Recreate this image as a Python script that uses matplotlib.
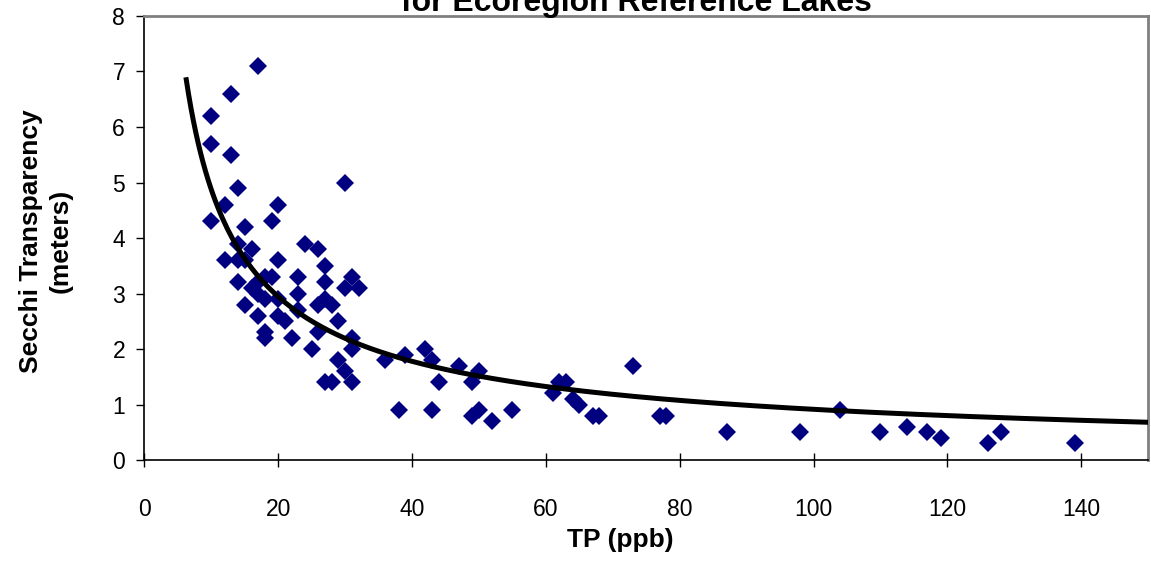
import numpy as np
import matplotlib
matplotlib.use("Agg")
import matplotlib.pyplot as plt

plt.rcParams['font.family'] = ['Liberation Sans', 'DejaVu Sans']

# TP (ppb) and Secchi depth (m) for reference lakes
tp = [17, 13, 10, 10, 13, 30, 14, 12, 20, 10,
      19, 15, 14, 24, 16, 26, 12, 14, 15, 20,
      27, 18, 19, 23, 31, 27, 14, 30, 32, 16,
      17, 17, 18, 20, 23, 27, 26, 28, 15, 23,
      17, 20, 21, 29, 18, 18, 22, 26, 31, 31,
      25, 36, 29, 30, 27, 28, 31, 39, 38, 42,
      43, 44, 43, 47, 50, 49, 49, 50, 52, 55,
      62, 63, 61, 64, 65, 67, 68, 73, 77, 78,
      87, 98, 104, 110, 114, 117, 119, 126, 128, 139]
secchi = [7.1, 6.6, 6.2, 5.7, 5.5, 5.0, 4.9, 4.6, 4.6, 4.3,
          4.3, 4.2, 3.9, 3.9, 3.8, 3.8, 3.6, 3.6, 3.6, 3.6,
          3.5, 3.3, 3.3, 3.3, 3.3, 3.2, 3.2, 3.1, 3.1, 3.1,
          3.2, 3.0, 2.9, 2.9, 3.0, 2.9, 2.8, 2.8, 2.8, 2.7,
          2.6, 2.6, 2.5, 2.5, 2.3, 2.2, 2.2, 2.3, 2.2, 2.0,
          2.0, 1.8, 1.8, 1.6, 1.4, 1.4, 1.4, 1.9, 0.9, 2.0,
          1.8, 1.4, 0.9, 1.7, 1.6, 1.4, 0.8, 0.9, 0.7, 0.9,
          1.4, 1.4, 1.2, 1.1, 1.0, 0.8, 0.8, 1.7, 0.8, 0.8,
          0.5, 0.5, 0.9, 0.5, 0.6, 0.5, 0.4, 0.3, 0.5, 0.3]

x_ticks = [0, 20, 40, 60, 80, 100, 120, 140]
y_ticks = [0, 1, 2, 3, 4, 5, 6, 7, 8]

# power trendline y = a * x^b as drawn on the original chart
trend_a, trend_b = 25.95, -0.7267
trend_start, trend_end = 6.25, 150

xs = np.linspace(trend_start, trend_end, 400)
ys = trend_a * xs ** trend_b

fig = plt.figure(figsize=(11.51, 5.63), dpi=100)
ax = fig.add_axes([0.1255, 0.1829, 0.872, 0.7887])

ax.plot(tp, secchi, linestyle='none', marker='D', markersize=9,
        color='#000080', markeredgewidth=0, zorder=2)
ax.plot(xs, ys, color='black', linewidth=3.6, zorder=3)

ax.set_xlim(0, 150)
ax.set_ylim(0, 8)
ax.set_xticks(x_ticks)
ax.set_yticks(y_ticks)
ax.tick_params(axis='x', direction='inout', length=10, width=1, labelsize=16.5, pad=22)
ax.tick_params(axis='y', direction='out', length=6, width=1, labelsize=16.5, pad=8)

for side in ['left', 'bottom']:
    ax.spines[side].set_color('black')
    ax.spines[side].set_linewidth(1.2)
for side in ['top', 'right']:
    ax.spines[side].set_color('#808080')
    ax.spines[side].set_linewidth(2)

fig.text(636 / 1151, 1 - 11 / 563, 'for Ecoregion Reference Lakes', ha='center',
         va='baseline', fontsize=23, fontweight='bold')
fig.text(620 / 1151, 1 - 547 / 563, 'TP (ppb)', ha='center', va='baseline',
         fontsize=19, fontweight='bold')
fig.text(46 / 1151, 1 - 241 / 563, 'Secchi Transparency\n(meters)', ha='center',
         va='center', rotation=90, fontsize=19, fontweight='bold', linespacing=1.3)

fig.savefig('out.png', dpi=100)
